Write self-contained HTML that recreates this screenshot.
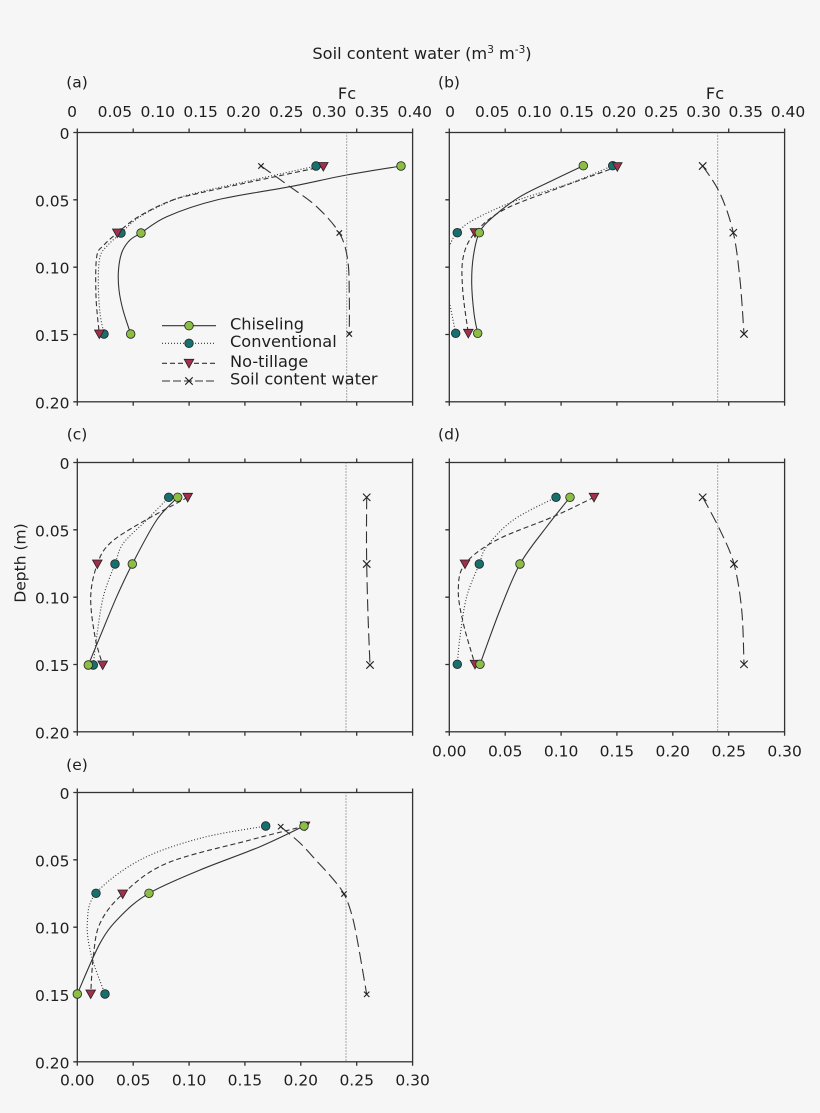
<!DOCTYPE html>
<html><head><meta charset="utf-8"><style>
html,body{margin:0;padding:0;background:#f6f6f6;}
svg{display:block;}
text{font-family:"DejaVu Sans","Liberation Sans",sans-serif;font-size:15.5px;fill:#1e1e1e;}
text.big{font-size:16.2px;}
</style></head><body>
<svg id="fig" width="820" height="1113" viewBox="0 0 820 1113" xmlns="http://www.w3.org/2000/svg">
<defs>
<g id="ax" fill="none" stroke="#333" stroke-width="1.3">
<rect x="0" y="0" width="335.3" height="269.3"/>
<path d="M0 0v-4M55.9 0v-4M111.8 0v-4M167.6 0v-4M223.5 0v-4M279.4 0v-4M335.3 0v-4
M0 269.3v4M55.9 269.3v4M111.8 269.3v4M167.6 269.3v4M223.5 269.3v4M279.4 269.3v4M335.3 269.3v4
M0 0h-4M0 67.3h-4M0 134.7h-4M0 202h-4M0 269.3h-4"/>
</g>
<circle id="cg" r="4.3" fill="#8cbd45" stroke="#222" stroke-width="0.8"/>
<circle id="ct" r="4.3" fill="#17706e" stroke="#222" stroke-width="0.8"/>
<polygon id="tr" points="-4.8,-4 4.8,-4 0,4.6" fill="#a1304d" stroke="#222" stroke-width="0.8"/>
<path id="xm" d="M-3.7 -3.7L3.7 3.7M-3.7 3.7L3.7 -3.7" stroke="#222" stroke-width="1.1" fill="none"/>
<path id="xs" d="M-2.7 -2.7L2.7 2.7M-2.7 2.7L2.7 -2.7" stroke="#222" stroke-width="1.1" fill="none"/>
<clipPath id="cb"><rect x="449.3" y="132.5" width="335.3" height="269.3"/></clipPath>
</defs>

<text class="big" x="422" y="59" text-anchor="middle">Soil content water (m<tspan font-size="10.5" dy="-6">3</tspan><tspan dy="6"> m</tspan><tspan font-size="10.5" dy="-6">-3</tspan><tspan dy="6">)</tspan></text>

<text x="77" y="87.5" text-anchor="middle">(a)</text>
<text x="449" y="87.5" text-anchor="middle">(b)</text>
<text x="77" y="439.5" text-anchor="middle">(c)</text>
<text x="449" y="439.5" text-anchor="middle">(d)</text>
<text x="77" y="770" text-anchor="middle">(e)</text>

<text class="big" x="347" y="99" text-anchor="middle">Fc</text>
<text class="big" x="715" y="99" text-anchor="middle">Fc</text>

<g text-anchor="middle">
<text x="72" y="117">0</text><text x="114.9" y="117">0.05</text><text x="157.7" y="117">0.10</text><text x="200.6" y="117">0.15</text><text x="243.4" y="117">0.20</text><text x="286.3" y="117">0.25</text><text x="329.1" y="117">0.30</text><text x="372" y="117">0.35</text><text x="414.8" y="117">0.40</text>
<text x="450" y="117">0</text><text x="492.3" y="117">0.05</text><text x="534.5" y="117">0.10</text><text x="576.8" y="117">0.15</text><text x="619" y="117">0.20</text><text x="661.3" y="117">0.25</text><text x="703.5" y="117">0.30</text><text x="745.8" y="117">0.35</text><text x="788" y="117">0.40</text>
<text x="449.3" y="756.5">0.00</text><text x="505.2" y="756.5">0.05</text><text x="561.1" y="756.5">0.10</text><text x="616.9" y="756.5">0.15</text><text x="672.8" y="756.5">0.20</text><text x="728.7" y="756.5">0.25</text><text x="784.6" y="756.5">0.30</text>
<text x="77.3" y="1085.5">0.00</text><text x="133.2" y="1085.5">0.05</text><text x="189.1" y="1085.5">0.10</text><text x="244.9" y="1085.5">0.15</text><text x="300.8" y="1085.5">0.20</text><text x="356.7" y="1085.5">0.25</text><text x="412.6" y="1085.5">0.30</text>
</g>

<g text-anchor="end">
<text x="69.5" y="139">0</text><text x="69.5" y="206.3">0.05</text><text x="69.5" y="273.7">0.10</text><text x="69.5" y="341">0.15</text><text x="69.5" y="408.3">0.20</text>
<text x="69.5" y="469">0</text><text x="69.5" y="536.3">0.05</text><text x="69.5" y="603.7">0.10</text><text x="69.5" y="671">0.15</text><text x="69.5" y="738.3">0.20</text>
<text x="69.5" y="799">0</text><text x="69.5" y="866.3">0.05</text><text x="69.5" y="933.7">0.10</text><text x="69.5" y="1001">0.15</text><text x="69.5" y="1068.3">0.20</text>
</g>
<text transform="translate(25.5,563) rotate(-90)" text-anchor="middle">Depth (m)</text>

<use href="#ax" x="77.3" y="132.5"/>
<use href="#ax" x="449.3" y="132.5"/>
<use href="#ax" x="77.3" y="462.5"/>
<use href="#ax" x="449.3" y="462.5"/>
<use href="#ax" x="77.3" y="792.5"/>

<g stroke="#555" stroke-width="1" stroke-dasharray="1,2" fill="none">
<path d="M346.7 132.5V401.8"/>
<path d="M717.7 132.5V401.8"/>
<path d="M346 462.5V731.8"/>
<path d="M717.7 462.5V731.8"/>
<path d="M346 792.5V1061.8"/>
</g>

<g id="curves" fill="none" stroke="#333" stroke-width="1.1" stroke-linejoin="round" stroke-linecap="butt">
<polyline class="s" points="401,166 346.7,175 290,186.7 216.7,200 166.7,216.7 141,233 130,240 122,252 118.5,270 119,290 123,310 130.7,334"/>
<polyline class="s" stroke-dasharray="1,2" points="316,166 253,180 200,192 173.3,200 140,216.7 121,233 108,245 100,256.7 98.3,283 100,313 104,334"/>
<polyline class="s" stroke-dasharray="5,3" points="323.3,166.5 255,181 200,193 170,201 138,217 117.3,233 104,245 96.7,256.7 96,296.7 99.3,334"/>
<polyline class="s" stroke-dasharray="12,5" points="261,166 290,186.7 316.7,206.7 339.3,233 347.7,260 349.3,296.7 349.3,334"/>
<polyline class="s" points="583.3,165.7 553.3,180 520,196.7 493.3,216.7 479.3,232.7 473.3,256.7 471.7,283.3 474,313.3 477.7,333.3"/>
<polyline class="s" clip-path="url(#cb)" stroke-dasharray="1,2" points="612.7,165.7 570,183.3 513.3,201.7 473.3,220 457.3,232.7 450,245 445,265 446,285 450,305 455.7,333.3"/>
<polyline class="s" stroke-dasharray="5,3" points="617.3,166.7 553.3,190 503.3,210 475,232.7 463.3,256.7 462.7,290 468.3,333.3"/>
<polyline class="s" stroke-dasharray="12,5" points="702.7,166 720,193.3 733.3,232.7 740,280 744,334"/>
<polyline class="s" points="177.7,497.3 156.7,520 132.3,564 116.7,596.7 100,636.7 88.3,665"/>
<polyline class="s" stroke-dasharray="1,2" points="168.7,497.3 146.7,520 123.3,543.3 115,564 103.3,596.7 96.7,636.7 93.3,665"/>
<polyline class="s" stroke-dasharray="5,3" points="187.7,497.3 140,523.3 110,543.3 97.3,564 90.7,596.7 95,636.7 102.7,665"/>
<polyline class="s" stroke-dasharray="12,5" points="366.7,497.3 366.5,530 366.7,564 368,615 370,665"/>
<polyline class="s" points="570,497.3 546.7,526.7 520,564 500,610 480,664.3"/>
<polyline class="s" stroke-dasharray="1,2" points="556,497.3 513.3,520 486.7,546.7 479.3,564 466.7,596.7 460,636.7 457.3,664.3"/>
<polyline class="s" stroke-dasharray="5,3" points="594,497.3 553.3,516.7 496.7,540 465,564 458.3,590 463.3,623.3 475,664.3"/>
<polyline class="s" stroke-dasharray="12,5" points="702.7,497.3 720,530 734,564 741.7,610 744,664.3"/>
<polyline class="s" points="304,826 260,846.7 200,870 149,893.3 120,916.7 100,943.3 77.3,994"/>
<polyline class="s" stroke-dasharray="1,2" points="265.7,826 200,838.3 140,860 96,893.3 87.3,923.3 91.7,956.7 105,994"/>
<polyline class="s" stroke-dasharray="5,3" points="305,826 250,840 166.7,863.3 122.7,894 100,923.3 93.3,956.7 90.7,994"/>
<polyline class="s" stroke-dasharray="12,5" points="280.7,826.7 300,843 316.7,861 333,879 344,894 351,912 356.7,936.7 366.7,994.3"/>
<path d="M162 325.7H216"/>
<path stroke-dasharray="1,2" d="M162 343.3H216"/>
<path stroke-dasharray="5,3" d="M162 363.3H216"/>
<path stroke-dasharray="8,3" d="M162 381H216"/>
</g>

<use href="#ct" x="316" y="166"/><use href="#ct" x="121" y="233"/><use href="#ct" x="104" y="334"/>
<use href="#ct" x="612.7" y="165.7"/><use href="#ct" x="457.3" y="232.7"/><use href="#ct" x="455.7" y="333.3"/>
<use href="#ct" x="168.7" y="497.3"/><use href="#ct" x="115" y="564"/><use href="#ct" x="93.3" y="665"/>
<use href="#ct" x="556" y="497.3"/><use href="#ct" x="479.3" y="564"/><use href="#ct" x="457.3" y="664.3"/>
<use href="#ct" x="265.7" y="826"/><use href="#ct" x="96" y="893.3"/><use href="#ct" x="105" y="994"/>
<use href="#ct" x="189" y="343.3"/>
<use href="#tr" x="323.3" y="166.5"/><use href="#tr" x="117.3" y="233"/><use href="#tr" x="99.3" y="334"/>
<use href="#tr" x="617.3" y="166.7"/><use href="#tr" x="475" y="232.7"/><use href="#tr" x="468.3" y="333.3"/>
<use href="#tr" x="187.7" y="497.3"/><use href="#tr" x="97.3" y="564"/><use href="#tr" x="102.7" y="665"/>
<use href="#tr" x="594" y="497.3"/><use href="#tr" x="465" y="564"/><use href="#tr" x="475" y="664.3"/>
<use href="#tr" x="305" y="826"/><use href="#tr" x="122.7" y="894"/><use href="#tr" x="90.7" y="994"/>
<use href="#tr" x="189" y="363.3"/>
<use href="#cg" x="401" y="166"/><use href="#cg" x="141" y="233"/><use href="#cg" x="130.7" y="334"/>
<use href="#cg" x="583.3" y="165.7"/><use href="#cg" x="479.3" y="232.7"/><use href="#cg" x="477.7" y="333.3"/>
<use href="#cg" x="177.7" y="497.3"/><use href="#cg" x="132.3" y="564"/><use href="#cg" x="88.3" y="665"/>
<use href="#cg" x="570" y="497.3"/><use href="#cg" x="520" y="564"/><use href="#cg" x="480" y="664.3"/>
<use href="#cg" x="304" y="826"/><use href="#cg" x="149" y="893.3"/><use href="#cg" x="77.3" y="994"/>
<use href="#cg" x="189" y="325.7"/>
<use href="#xs" x="261" y="166"/><use href="#xs" x="339.3" y="233"/><use href="#xs" x="349.3" y="334"/>
<use href="#xm" x="702.7" y="166"/><use href="#xm" x="733.3" y="232.7"/><use href="#xm" x="744" y="334"/>
<use href="#xm" x="366.7" y="497.3"/><use href="#xm" x="366.7" y="564"/><use href="#xm" x="370" y="665"/>
<use href="#xm" x="702.7" y="497.3"/><use href="#xm" x="734" y="564"/><use href="#xm" x="744" y="664.3"/>
<use href="#xs" x="280.7" y="826.7"/><use href="#xs" x="344" y="894"/><use href="#xs" x="366.7" y="994.3"/>
<use href="#xm" x="189" y="381"/>

<text class="big" x="230" y="329.5">Chiseling</text>
<text class="big" x="230" y="347">Conventional</text>
<text class="big" x="230" y="367">No-tillage</text>
<text class="big" x="230" y="384.5">Soil content water</text>
</svg>
<script>
(function(){
  var ns="http://www.w3.org/2000/svg";
  var pls=document.querySelectorAll("polyline.s");
  for(var k=0;k<pls.length;k++){
    var pl=pls[k];
    var raw=pl.getAttribute("points").trim().split(/\s+/);
    var P=[];
    for(var i=0;i<raw.length;i++){var c=raw[i].split(",");P.push([parseFloat(c[0]),parseFloat(c[1])]);}
    if(P.length<2)continue;
    var d="M"+P[0][0]+" "+P[0][1];
    for(var i=0;i<P.length-1;i++){
      var p0=P[i>0?i-1:i],p1=P[i],p2=P[i+1],p3=P[i+2<P.length?i+2:i+1];
      var c1x=p1[0]+(p2[0]-p0[0])/6,c1y=p1[1]+(p2[1]-p0[1])/6;
      var c2x=p2[0]-(p3[0]-p1[0])/6,c2y=p2[1]-(p3[1]-p1[1])/6;
      d+="C"+c1x.toFixed(2)+" "+c1y.toFixed(2)+" "+c2x.toFixed(2)+" "+c2y.toFixed(2)+" "+p2[0]+" "+p2[1];
    }
    var path=document.createElementNS(ns,"path");
    path.setAttribute("d",d);
    var attrs=["stroke-dasharray","clip-path"];
    for(var a=0;a<attrs.length;a++){var v=pl.getAttribute(attrs[a]);if(v)path.setAttribute(attrs[a],v);}
    pl.parentNode.replaceChild(path,pl);
  }
})();
</script>
</body></html>
